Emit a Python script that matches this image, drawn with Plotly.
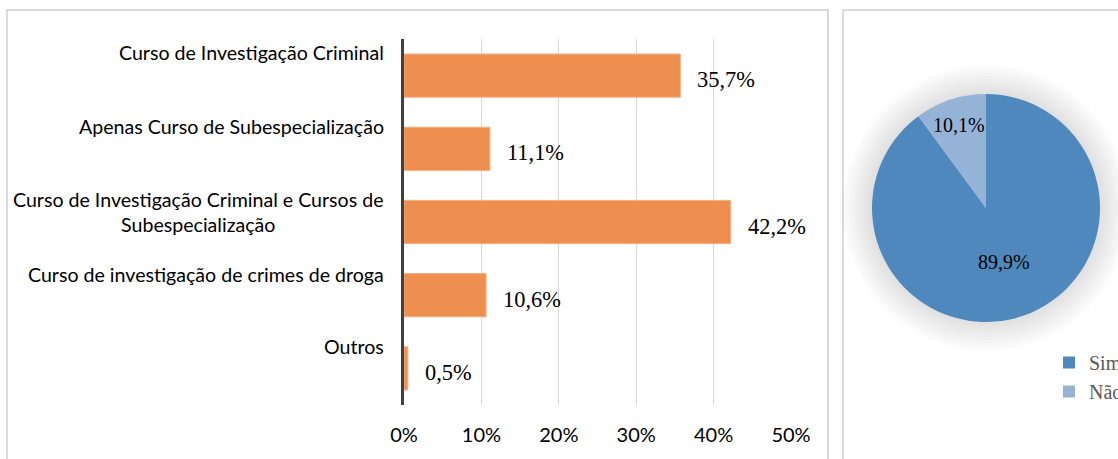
import plotly.graph_objects as go

# ---- data ----
categories = [
    "Curso de Investigação Criminal",
    "Apenas Curso de Subespecialização",
    "Curso de Investigação Criminal e Cursos de<br>Subespecialização",
    "Curso de investigação de crimes de droga",
    "Outros",
]
values = [35.7, 11.1, 42.2, 10.6, 0.5]
x_ticks = [0, 10, 20, 30, 40, 50]
x_tick_labels = ["0%", "10%", "20%", "30%", "40%", "50%"]

pie_labels = ["Sim", "Não"]
pie_values = [89.9, 10.1]

W, H = 1118, 459
def px(x):
    return x / W
def py(y):
    return 1 - y / H

fmt = lambda v: f"{v:.1f}%".replace(".", ",")

fig = go.Figure()

fig.add_trace(go.Bar(
    x=values, y=categories, orientation="h",
    marker=dict(color="#EE8F4F", line=dict(color="#F3AE80", width=1)),
    width=0.59, showlegend=False, hoverinfo="skip",
))

fig.add_trace(go.Pie(
    labels=pie_labels, values=pie_values, sort=False, direction="clockwise",
    rotation=0,
    marker=dict(colors=["#4F88BC", "#95B3D7"], line=dict(width=0)),
    text=[fmt(v) for v in pie_values], textinfo="text",
    textposition="inside", insidetextorientation="horizontal",
    textfont=dict(family="Liberation Serif", size=20, color="#000000"),
    domain=dict(x=[px(872), px(1100)], y=[py(322), py(94)]),
    hoverinfo="skip",
))

annotations = []
label_shift = [23, 22, 10, 21, 22]
for c, s in zip(categories, label_shift):
    annotations.append(dict(
        x=px(386), xref="paper", y=c, yref="y", xanchor="right", yanchor="middle",
        text=c, showarrow=False, align="center", yshift=s,
        font=dict(family="Lato", size=19.6, color="#000000"),
    ))
for c, v in zip(categories, values):
    annotations.append(dict(
        x=v, xref="x", y=c, yref="y", xanchor="left", yanchor="middle",
        text=fmt(v), showarrow=False, xshift=15, yshift=-4,
        font=dict(family="Liberation Serif", size=22.4, color="#000000"),
    ))

shapes = [
    dict(type="rect", xref="paper", yref="paper", x0=px(7), x1=px(828), y0=-0.1, y1=py(10),
         line=dict(color="#D0D0D0", width=1.5), fillcolor="rgba(0,0,0,0)", layer="below"),
    dict(type="rect", xref="paper", yref="paper", x0=px(843), x1=1.1, y0=-0.1, y1=py(10),
         line=dict(color="#D0D0D0", width=1.5), fillcolor="rgba(0,0,0,0)", layer="below"),
]
cx, cy, r = 986, 208, 114
for d in range(30, 0, -3):
    shapes.append(dict(type="circle", xref="paper", yref="paper",
                       x0=px(cx - r - d), x1=px(cx + r + d), y0=py(cy + r + d), y1=py(cy - r - d),
                       line=dict(width=0), fillcolor="rgba(0,0,0,0.012)", layer="below"))

fig.update_layout(
    width=W, height=H, autosize=False,
    margin=dict(l=0, r=0, t=0, b=0, pad=0, autoexpand=False),
    paper_bgcolor="white", plot_bgcolor="white",
    xaxis=dict(domain=[px(404), px(791)], range=[0, 50], tickvals=x_ticks, ticktext=x_tick_labels,
               showgrid=True, gridcolor="#D9D9D9", gridwidth=1, zeroline=False, showline=False,
               ticks="", ticklabelstandoff=16, automargin=False,
               tickfont=dict(family="Lato", size=20, color="#000000")),
    yaxis=dict(domain=[py(405), py(39)], categoryorder="array", categoryarray=categories,
               autorange="reversed", showticklabels=False, showgrid=False, zeroline=False,
               showline=True, linecolor="#404040", linewidth=3, ticks="", automargin=False),
    bargap=0.41,
    uniformtext=dict(minsize=20, mode="show"),
    showlegend=True,
    legend=dict(x=px(1049), y=py(343), xanchor="left", yanchor="top",
                font=dict(family="Liberation Serif", size=20, color="#595959"),
                bgcolor="rgba(0,0,0,0)", tracegroupgap=0),
    annotations=annotations,
    shapes=shapes,
)

fig.write_html("out.html", config={"displayModeBar": False},
               post_script="document.body.style.margin='0';document.body.style.overflow='hidden';")
